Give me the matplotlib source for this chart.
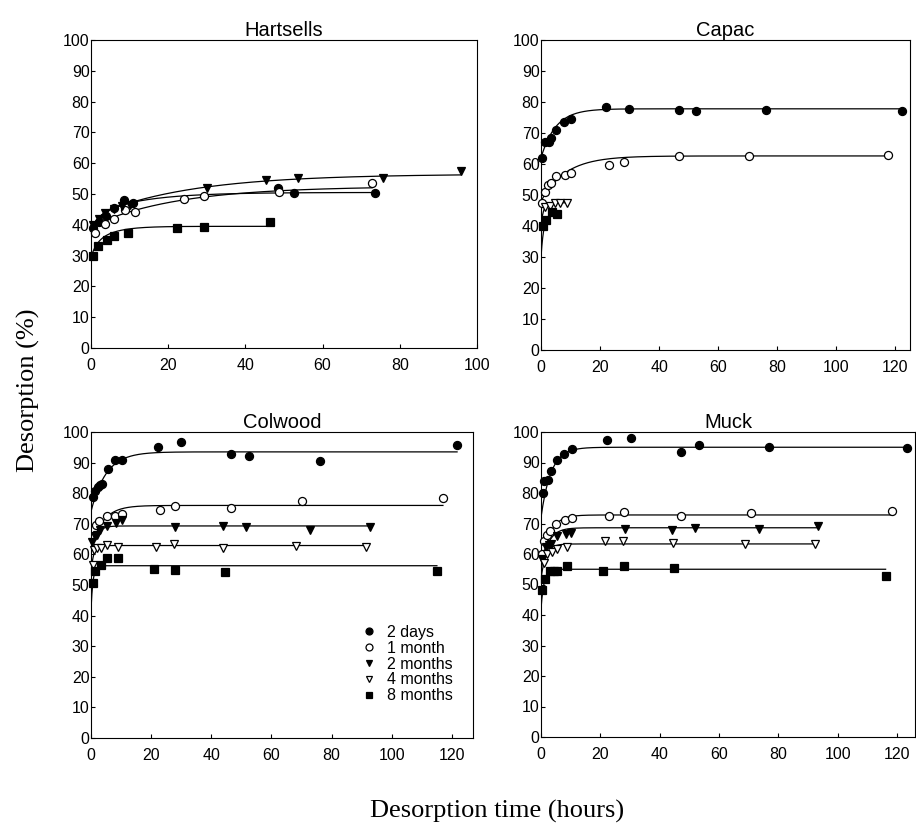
import numpy as np
import matplotlib
matplotlib.use("Agg")
import matplotlib.pyplot as plt
from matplotlib.lines import Line2D

plt.rcParams['font.family'] = ['Liberation Sans', 'DejaVu Sans']

series_labels = ['2 days', '1 month', '2 months', '4 months', '8 months']
panel_titles = ['Hartsells', 'Capac', 'Colwood', 'Muck']
y_ticks = [0, 10, 20, 30, 40, 50, 60, 70, 80, 90, 100]

# ---------------- Hartsells ----------------
hart_t_2d = [0.5, 2, 4, 6, 8.6, 11, 48.5, 52.5, 73.5]
hart_y_2d = [39, 41, 43, 45.4, 47.9, 47, 52.1, 50.3, 50.3]
hart_t_1m = [1, 3.7, 5.9, 8.9, 11.3, 24.2, 29.2, 48.6, 72.8]
hart_y_1m = [37.2, 40.4, 42, 44.8, 44.3, 48.4, 49.2, 50.8, 53.6]
hart_t_2m = [0.5, 2, 3.5, 6, 8, 10, 30, 45.3, 53.5, 75.7, 95.8]
hart_y_2m = [40, 42, 43.7, 45, 46, 46.5, 52, 54.6, 55.2, 55.2, 57.4]
hart_t_8m = [0.6, 1.9, 4.1, 6, 9.6, 22.3, 29.3, 46.5]
hart_y_8m = [30, 33, 35.2, 36.3, 37.5, 39.1, 39.2, 40.8]
# fitted curves: y0, fast amplitude, fast rate, slow amplitude, slow rate, end time
hart_fit_2d = [38, 5, 0.5, 7.5, 0.08, 73.5]
hart_fit_1m = [36.5, 3, 0.8, 13, 0.045, 72.8]
hart_fit_2m = [38.5, 4, 0.6, 14, 0.04, 95.8]
hart_fit_8m = [29.5, 4, 0.7, 6, 0.2, 46.5]

# ---------------- Capac ----------------
cap_t_2d = [0.3, 1.5, 2.6, 3.5, 5.2, 7.7, 10.3, 21.9, 29.9, 46.6, 52.6, 76.2, 122.3]
cap_y_2d = [61.8, 67, 67, 68.3, 71, 73.6, 74.4, 78.5, 77.6, 77.3, 77.1, 77.3, 77.1]
cap_t_1m = [0.5, 1.5, 2.4, 3.4, 5.2, 8.2, 10.2, 22.9, 28, 46.6, 70.3, 117.5]
cap_y_1m = [47.5, 51, 53.1, 53.8, 56.1, 56.6, 57.1, 59.7, 60.8, 62.5, 62.5, 62.9]
cap_t_4m = [1.5, 3.2, 4.9, 6.5, 8.8]
cap_y_4m = [46, 46.5, 47.5, 47.5, 47.5]
cap_t_8m = [0.6, 1.8, 3.7, 5.4]
cap_y_8m = [40, 42, 44.5, 44]
cap_fit_2d = [62, 15.8, 0.2, 0, 0, 122.3]
cap_fit_1m = [48, 14.6, 0.12, 0, 0, 117.5]
cap_fit_4m = [40, 7.5, 1.2, 0, 0, 8.8]
cap_fit_8m = [30, 14.3, 1.0, 0, 0, 5.4]

# ---------------- Colwood ----------------
col_t_2d = [0.6, 1.4, 2.2, 3.1, 3.7, 5.5, 7.9, 10.3, 22.2, 30, 46.6, 52.4, 76, 121.7]
col_y_2d = [78.9, 80.8, 81.9, 82.7, 83, 88, 90.7, 90.7, 95.2, 96.7, 92.7, 92.1, 90.5, 95.7]
col_t_1m = [1.5, 2.5, 5.3, 8.1, 10.3, 23, 28, 46.5, 70, 117]
col_y_1m = [69.5, 70.8, 72.7, 72.7, 73.3, 74.4, 75.8, 75.2, 77.6, 78.4]
col_t_2m = [0.3, 1.4, 2, 3.1, 5.3, 8.3, 10.3, 28, 43.8, 51.4, 72.9, 92.6]
col_y_2m = [64.1, 66, 66.5, 68.1, 69.2, 70.3, 71.1, 69, 69.2, 68.8, 68.1, 69]
col_t_4m = [0.6, 1.1, 2, 3.3, 5.3, 8.9, 21.6, 27.5, 43.9, 68.1, 91.5]
col_y_4m = [56.6, 61.4, 62, 62, 63, 62.5, 62.5, 63.3, 62, 62.8, 62.5]
col_t_8m = [0.6, 1.4, 3.3, 5.3, 8.9, 21, 27.9, 44.4, 115]
col_y_8m = [50.6, 54.6, 56.6, 58.7, 58.7, 55.2, 55, 54.4, 54.6]
col_fit_2d = [74, 19.5, 0.2, 0, 0, 121.7]
col_fit_1m = [62, 14, 0.25, 0, 0, 117]
col_fit_2m = [60, 9.3, 0.6, 0, 0, 92.6]
col_fit_4m = [54, 8.9, 1.2, 0, 0, 91.5]
col_fit_8m = [42, 14.3, 1.5, 0, 0, 115]

# ---------------- Muck ----------------
muck_t_2d = [0.6, 1.1, 2.2, 3.5, 5.4, 7.8, 10.4, 22.4, 30.3, 47.1, 53.1, 76.7, 123.2]
muck_y_2d = [80, 83.9, 84.4, 87.2, 90.8, 92.8, 94.4, 97.4, 98, 93.3, 95.6, 95.2, 94.7]
muck_t_1m = [0.5, 1.1, 2, 3.1, 5.1, 8.2, 10.4, 23, 28.1, 47, 70.6, 118.3]
muck_y_1m = [60, 64.4, 66.1, 67.4, 70, 71.3, 71.9, 72.6, 73.7, 72.6, 73.3, 74.1]
muck_t_2m = [0.3, 1.7, 2.6, 3.5, 5.4, 8.4, 10.2, 28.2, 44, 51.8, 73.6, 93.4]
muck_y_2m = [58.3, 62.2, 62.8, 63.3, 65.9, 66.4, 67, 68.3, 67.8, 68.6, 68.1, 69.2]
muck_t_4m = [1, 2, 3.7, 5.4, 8.7, 21.7, 27.5, 44.5, 68.8, 92.4]
muck_y_4m = [57, 60, 60.6, 61.7, 62.2, 64.4, 64.1, 63.6, 63.3, 63.3]
muck_t_8m = [0.3, 1.2, 3.1, 4.3, 5.4, 8.7, 21, 28, 44.9, 116.1]
muck_y_8m = [48.3, 51.7, 54.4, 54.4, 54.4, 56.1, 54.4, 56.1, 55.3, 52.8]
muck_fit_2d = [72, 23, 0.3, 0, 0, 123.2]
muck_fit_1m = [55, 17.8, 0.35, 0, 0, 118.3]
muck_fit_2m = [55, 13.6, 0.4, 0, 0, 93.4]
muck_fit_4m = [52, 11.3, 0.6, 0, 0, 92.4]
muck_fit_8m = [42, 13, 1.0, 0, 0, 116.1]

x_limits = [100, 125, 127, 126]
x_ticks_h = [0, 20, 40, 60, 80, 100]
x_ticks_o = [0, 20, 40, 60, 80, 100, 120]

# marker styles per series
styles = {
    '2 days':   dict(marker='o', mfc='black', mec='black', ms=5.8),
    '1 month':  dict(marker='o', mfc='white', mec='black', ms=5.8),
    '2 months': dict(marker='v', mfc='black', mec='black', ms=6),
    '4 months': dict(marker='v', mfc='white', mec='black', ms=6),
    '8 months': dict(marker='s', mfc='black', mec='black', ms=5.2),
}

panels = [
    ('Hartsells', [('2 days', hart_t_2d, hart_y_2d, hart_fit_2d),
                   ('1 month', hart_t_1m, hart_y_1m, hart_fit_1m),
                   ('2 months', hart_t_2m, hart_y_2m, hart_fit_2m),
                   ('8 months', hart_t_8m, hart_y_8m, hart_fit_8m)]),
    ('Capac', [('2 days', cap_t_2d, cap_y_2d, cap_fit_2d),
               ('1 month', cap_t_1m, cap_y_1m, cap_fit_1m),
               ('4 months', cap_t_4m, cap_y_4m, cap_fit_4m),
               ('8 months', cap_t_8m, cap_y_8m, cap_fit_8m)]),
    ('Colwood', [('2 days', col_t_2d, col_y_2d, col_fit_2d),
                 ('1 month', col_t_1m, col_y_1m, col_fit_1m),
                 ('2 months', col_t_2m, col_y_2m, col_fit_2m),
                 ('4 months', col_t_4m, col_y_4m, col_fit_4m),
                 ('8 months', col_t_8m, col_y_8m, col_fit_8m)]),
    ('Muck', [('2 days', muck_t_2d, muck_y_2d, muck_fit_2d),
              ('1 month', muck_t_1m, muck_y_1m, muck_fit_1m),
              ('2 months', muck_t_2m, muck_y_2m, muck_fit_2m),
              ('4 months', muck_t_4m, muck_y_4m, muck_fit_4m),
              ('8 months', muck_t_8m, muck_y_8m, muck_fit_8m)]),
]

W, H = 916, 825
fig = plt.figure(figsize=(W / 100, H / 100), dpi=100)

# axes rectangles in pixels: left, top, right, bottom
rects = [(91, 40, 477, 348), (541, 40, 910, 350),
         (91, 432, 473, 738), (541, 432, 915, 737)]


def fit_curve(p, t):
    y0, a1, k1, a2, k2, _ = p
    return y0 + a1 * (1 - np.exp(-k1 * t)) + a2 * (1 - np.exp(-k2 * t))


for idx, ((title, series), (l, t, r, b)) in enumerate(zip(panels, rects)):
    ax = fig.add_axes([l / W, 1 - b / H, (r - l) / W, (b - t) / H])
    for name, xs, ys, fit in series:
        tt = np.linspace(0, fit[5], 400)
        ax.plot(tt, fit_curve(fit, tt), color='black', lw=0.9, zorder=2)
        st = styles[name]
        ax.plot(xs, ys, linestyle='none', marker=st['marker'], ms=st['ms'],
                mfc=st['mfc'], mec=st['mec'], mew=0.9, zorder=3, clip_on=False)
    ax.set_xlim(0, x_limits[idx])
    ax.set_ylim(0, 100)
    ax.set_xticks(x_ticks_h if idx == 0 else x_ticks_o)
    ax.set_yticks(y_ticks)
    ax.tick_params(direction='in', length=3, width=0.8, labelsize=11.5)
    ax.tick_params(axis='x', pad=7)
    ax.tick_params(axis='y', pad=1)
    for sp in ax.spines.values():
        sp.set_linewidth(0.8)
    ax.set_title(title, fontsize=14.5, pad=1)
    if title == 'Colwood':
        handles = [Line2D([], [], linestyle='none', marker=styles[s]['marker'],
                          mfc=styles[s]['mfc'], mec=styles[s]['mec'], ms=5, mew=0.9)
                   for s in series_labels]
        ax.legend(handles, series_labels, loc='upper left',
                  bbox_to_anchor=((363 - l) / (r - l), (b - 625) / (b - t)),
                  frameon=False, fontsize=11.5,
                  handletextpad=0.7, labelspacing=0.05, handlelength=0.8,
                  borderaxespad=0, borderpad=0)

fig.text(28 / W, 1 - 390 / H, 'Desorption (%)', rotation=90, va='center',
         ha='center', fontsize=19, family='Liberation Serif')
fig.text(497 / W, 1 - 811 / H, 'Desorption time (hours)', va='center',
         ha='center', fontsize=19, family='Liberation Serif')

fig.savefig('out.png', dpi=100, facecolor='white')
